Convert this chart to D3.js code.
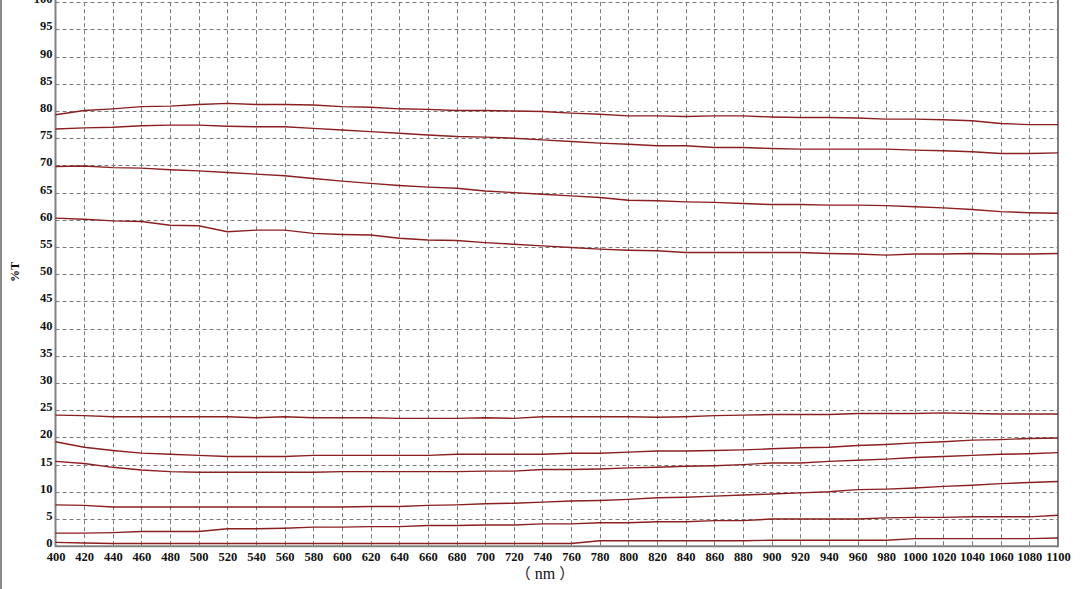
<!DOCTYPE html>
<html>
<head>
<meta charset="utf-8">
<script src="https://cdn.jsdelivr.net/npm/d3@7"></script>
<style>
  html, body { margin: 0; padding: 0; background: #ffffff; overflow: hidden; }
  svg { display: block; }
</style>
</head>
<body>
<svg id="chart" width="1089" height="589"></svg>
<script>
// ---------- data ----------
const wavelengths = d3.range(400, 1101, 20); // 36 points (nm)
const xTickLabels = d3.range(400, 1101, 20);
const yTickLabels = d3.range(0, 101, 5);

const curve1 = [79.3,80.1,80.4,80.8,80.9,81.2,81.4,81.2,81.2,81.1, 80.8,80.7,80.4,80.3,80.1,80.1,80.0,79.9,79.6,79.4, 79.1,79.1,79.0,79.1,79.1,78.9,78.8,78.8,78.7,78.5, 78.5,78.4,78.2,77.7,77.5,77.5];
const curve2 = [76.7,76.9,77.0,77.3,77.4,77.4,77.2,77.1,77.1,76.8, 76.5,76.2,75.9,75.6,75.3,75.2,75.0,74.7,74.4,74.1, 73.9,73.6,73.6,73.3,73.3,73.1,73.0,73.0,73.0,73.0, 72.8,72.7,72.5,72.2,72.2,72.3];
const curve3 = [69.8,69.9,69.6,69.5,69.2,69.0,68.7,68.4,68.1,67.6, 67.1,66.7,66.3,66.0,65.8,65.3,65.0,64.7,64.4,64.1, 63.6,63.5,63.3,63.2,63.0,62.8,62.8,62.7,62.7,62.6, 62.4,62.2,61.9,61.5,61.3,61.2];
const curve4 = [60.3,60.1,59.8,59.7,59.0,58.9,57.8,58.1,58.1,57.5, 57.3,57.2,56.6,56.3,56.2,55.8,55.5,55.2,54.9,54.6, 54.4,54.3,54.0,54.0,54.0,54.0,54.0,53.8,53.7,53.5, 53.7,53.7,53.8,53.7,53.7,53.8];
const curve5 = [24.1,24.0,23.8,23.8,23.8,23.8,23.8,23.6,23.8,23.6, 23.6,23.6,23.5,23.5,23.5,23.6,23.5,23.8,23.8,23.8, 23.8,23.7,23.8,24.0,24.1,24.2,24.2,24.2,24.4,24.4, 24.4,24.5,24.4,24.3,24.3,24.3];
const curve6 = [19.2,18.2,17.6,17.1,16.9,16.7,16.5,16.5,16.5,16.7, 16.7,16.7,16.7,16.7,16.9,16.9,16.9,16.9,17.1,17.1, 17.3,17.5,17.5,17.6,17.7,17.9,18.1,18.2,18.5,18.7, 19.0,19.2,19.5,19.6,19.8,19.9];
const curve7 = [15.6,15.2,14.5,14.0,13.7,13.6,13.6,13.6,13.6,13.6, 13.7,13.7,13.7,13.7,13.7,13.8,13.8,14.1,14.1,14.2, 14.4,14.5,14.7,14.8,15.0,15.3,15.3,15.6,15.8,16.0, 16.3,16.5,16.7,16.9,17.0,17.2];
const curve8 = [7.6,7.5,7.2,7.2,7.2,7.2,7.2,7.2,7.2,7.2, 7.2,7.3,7.3,7.5,7.6,7.8,7.9,8.1,8.3,8.4, 8.6,8.9,9.0,9.2,9.4,9.6,9.8,10.0,10.4,10.5, 10.7,11.0,11.2,11.5,11.7,11.9];
const curve9 = [2.4,2.4,2.5,2.7,2.7,2.7,3.2,3.2,3.3,3.5, 3.5,3.6,3.6,3.8,3.8,3.9,3.9,4.1,4.1,4.3, 4.3,4.5,4.5,4.7,4.7,5.0,5.0,5.0,5.0,5.2, 5.3,5.3,5.4,5.4,5.4,5.7];
const curve10 = [0.7,0.6,0.5,0.5,0.5,0.5,0.5,0.5,0.5,0.5, 0.5,0.5,0.5,0.5,0.5,0.5,0.5,0.5,0.5,1.0, 1.0,1.0,1.0,1.0,1.0,1.1,1.1,1.1,1.1,1.1, 1.4,1.4,1.4,1.4,1.4,1.5];

const seriesList = [curve1, curve2, curve3, curve4, curve5, curve6, curve7, curve8, curve9, curve10];

// ---------- layout ----------
const svg = d3.select("#chart");
const plotLeft = 55.5, plotRight = 1058, plotTop = 2.2, plotBottom = 546.2;
const x = d3.scaleLinear().domain([400, 1100]).range([plotLeft, plotRight]);
const y = d3.scaleLinear().domain([0, 100]).range([plotBottom, plotTop]);

const gridColor = "#7a7a7a";

// outer left border of window
svg.append("line")
  .attr("x1", 1).attr("x2", 1).attr("y1", 0).attr("y2", 589)
  .attr("stroke", "#8a8a8a").attr("stroke-width", 2);

// grid
const grid = svg.append("g");
grid.selectAll("line.h").data(yTickLabels.filter(d => d > 0)).enter().append("line")
  .attr("x1", plotLeft).attr("x2", plotRight)
  .attr("y1", d => Math.round(y(d)) + 0.5).attr("y2", d => Math.round(y(d)) + 0.5)
  .attr("stroke", gridColor).attr("stroke-width", 1).attr("stroke-dasharray", "4,3");
grid.selectAll("line.v").data(xTickLabels.filter(d => d > 400 && d < 1100)).enter().append("line")
  .attr("x1", d => Math.round(x(d)) + 0.5).attr("x2", d => Math.round(x(d)) + 0.5)
  .attr("y1", plotTop).attr("y2", plotBottom)
  .attr("stroke", gridColor).attr("stroke-width", 1).attr("stroke-dasharray", "4,3");

// axes frame
svg.append("line").attr("x1", plotLeft).attr("x2", plotLeft).attr("y1", 0).attr("y2", plotBottom + 1)
  .attr("stroke", "#808080").attr("stroke-width", 2);
svg.append("line").attr("x1", plotRight).attr("x2", plotRight).attr("y1", 0).attr("y2", plotBottom + 1)
  .attr("stroke", "#808080").attr("stroke-width", 2);
svg.append("line").attr("x1", plotLeft).attr("x2", plotRight).attr("y1", plotBottom).attr("y2", plotBottom)
  .attr("stroke", "#808080").attr("stroke-width", 2);

// axis labels via d3 axes (no tick lines)
const yAxis = d3.axisLeft(y).tickValues(yTickLabels).tickSize(0).tickPadding(0).tickFormat(d3.format("d"));
const gy = svg.append("g").attr("transform", `translate(${plotLeft - 3},-3.5)`).call(yAxis);
gy.select(".domain").remove();
gy.selectAll("text")
  .attr("font-family", "'Liberation Serif', 'Times New Roman', serif")
  .attr("font-weight", "bold").attr("font-size", 12.5).attr("fill", "#111");

const xAxis = d3.axisBottom(x).tickValues(xTickLabels).tickSize(0).tickPadding(6).tickFormat(d3.format("d"));
const gx = svg.append("g").attr("transform", `translate(0,${plotBottom})`).call(xAxis);
gx.select(".domain").remove();
gx.selectAll("text")
  .attr("font-family", "'Liberation Serif', 'Times New Roman', serif")
  .attr("font-weight", "bold").attr("font-size", 12.5).attr("fill", "#111");

// axis titles
svg.append("text")
  .attr("transform", "translate(19,272) rotate(-90)")
  .attr("text-anchor", "middle")
  .attr("font-family", "'Liberation Serif', 'Times New Roman', serif")
  .attr("font-weight", "bold").attr("font-size", 12).attr("fill", "#111")
  .text("%T");
const xt = svg.append("text")
  .attr("x", 545).attr("y", 579)
  .attr("text-anchor", "middle")
  .attr("font-size", 16).attr("fill", "#111");
xt.append("tspan").attr("font-family", "'Noto Sans CJK SC', sans-serif").attr("font-size", 15).text("（");
xt.append("tspan").attr("dx", 4).attr("font-family", "'Liberation Serif', serif").text("nm");
xt.append("tspan").attr("dx", 4).attr("font-family", "'Noto Sans CJK SC', sans-serif").attr("font-size", 15).text("）");

// curves
const line = d3.line().x((d, i) => x(wavelengths[i])).y(d => y(d));
svg.append("g").selectAll("path").data(seriesList).enter().append("path")
  .attr("d", d => line(d))
  .attr("fill", "none")
  .attr("stroke", "#8b1e1e")
  .attr("stroke-width", 1.4);
</script>
</body>
</html>
